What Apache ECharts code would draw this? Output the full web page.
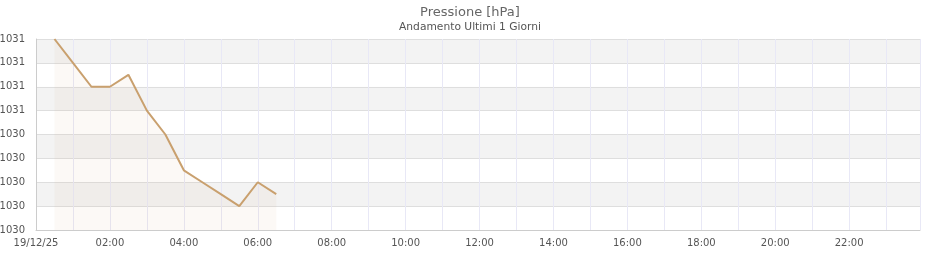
<!DOCTYPE html>
<html>
<head>
<meta charset="utf-8">
<script src="https://cdn.jsdelivr.net/npm/echarts@6/dist/echarts.min.js"></script>
<style>html,body{margin:0;padding:0;background:#fff}#c{width:940px;height:260px}</style>
</head>
<body>
<div id="c"></div>
<script>
var times = ['00:30','01:00','01:30','02:00','02:30','03:00','03:30','04:00','04:30','05:00','05:30','06:00','06:30'];
var pressure = [1031.2,1031.0,1030.8,1030.8,1030.9,1030.6,1030.4,1030.1,1030.0,1029.9,1029.8,1030.0,1029.9];
var dateLabel = '19/12/25';

function toHours(t){var p=t.split(':');return +p[0]+ (+p[1])/60;}
var data = times.map(function(t,i){return [toHours(t), pressure[i]];});

var chart = echarts.init(document.getElementById('c'), null, {renderer:'canvas'});
chart.setOption({
  animation:false,
  textStyle:{fontFamily:'DejaVu Sans'},
  title:{
    text:'Pressione [hPa]', subtext:'Andamento Ultimi 1 Giorni',
    left:'center', top:1, itemGap:3,
    textStyle:{fontSize:13, fontWeight:'normal', color:'#666', fontFamily:'DejaVu Sans'},
    subtextStyle:{fontSize:10.7, color:'#555', fontFamily:'DejaVu Sans'}
  },
  grid:{left:36, right:20, top:39, bottom:30, containLabel:false, outerBoundsMode:'none'},
  xAxis:{
    type:'value', min:0, max:23 + 55/60, interval:1,
    axisLine:{lineStyle:{color:'#ccc'}},
    axisTick:{show:false},
    splitLine:{show:true, lineStyle:{color:'#e8e8f6'}},
    axisLabel:{
      fontSize:10, color:'#555', margin:8, showMaxLabel:false,
      formatter:function(v){
        if (Math.abs(v-Math.round(v))>1e-6) return '';
        var h=Math.round(v);
        if (h===0) return dateLabel;
        if (h%2) return '';
        return (h<10?'0':'')+h+':00';
      }
    }
  },
  yAxis:{
    type:'value', min:1029.6, max:1031.2, interval:0.2,
    axisLine:{show:true, lineStyle:{color:'#ccc'}},
    axisTick:{show:false},
    splitLine:{show:true, lineStyle:{color:'#dedede'}},
    splitArea:{show:true, areaStyle:{color:['rgba(255,255,255,1)','#f3f3f3']}},
    axisLabel:{fontSize:10, color:'#555', margin:11, hideOverlap:false,
      formatter:function(v){return Math.round(v).toString();}}
  },
  series:[{
    type:'line', data:data, showSymbol:false, symbol:'none',
    lineStyle:{color:'#c9a06e', width:2},
    itemStyle:{color:'#c9a06e'},
    areaStyle:{color:'rgba(210,160,110,0.09)'}
  }]
});
</script>
</body>
</html>
